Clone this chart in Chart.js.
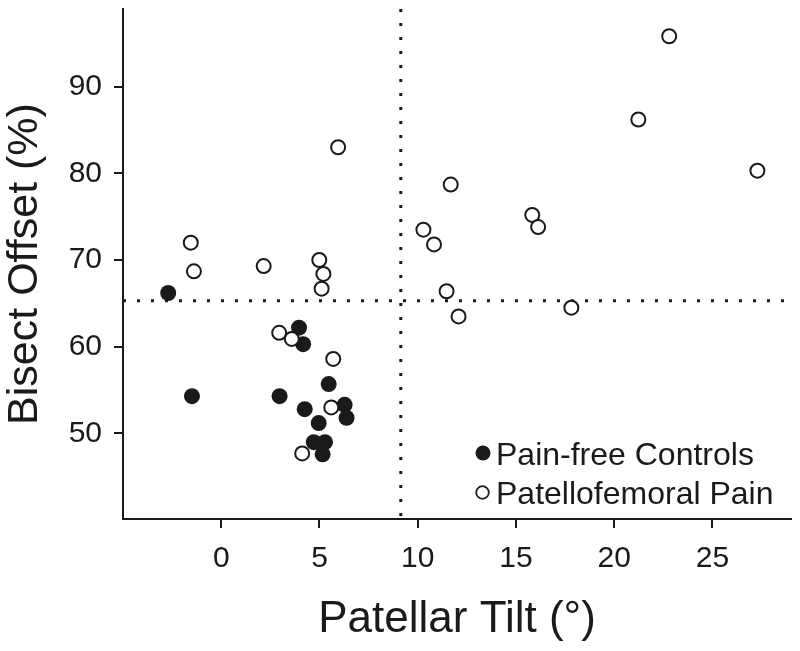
<!DOCTYPE html>
<html>
<head>
<meta charset="utf-8">
<script src="https://cdn.jsdelivr.net/npm/chart.js@4"></script>
<style>
  body { margin: 0; background: #fff; }
  #wrap { width: 800px; height: 651px; }
</style>
</head>
<body>
<div id="wrap"><canvas id="chart" width="800" height="651"></canvas></div>
<script>
// Pain-free controls (filled circles)
const controlTilt   = [-2.7, 3.96, 4.17, 5.47, -1.49, 2.97, 4.25, 6.28, 6.38, 4.96, 4.71, 5.28, 5.16];
const controlOffset = [66.2, 62.2, 60.3, 55.7, 54.3, 54.3, 52.8, 53.3, 51.8, 51.2, 49.0, 49.0, 47.6];

// Patellofemoral pain (open circles)
const painTilt   = [5.95, 10.29, 10.83, -1.55, -1.39, 2.16, 4.99, 5.2, 5.11, 2.95, 3.59, 5.7, 5.6, 4.12,
                    22.8, 21.23, 27.29, 11.68, 15.83, 16.13, 11.47, 12.08, 17.82];
const painOffset = [83.0, 73.5, 71.8, 72.0, 68.7, 69.3, 70.0, 68.4, 66.7, 61.6, 60.9, 58.6, 53.0, 47.7,
                    95.8, 86.2, 80.3, 78.7, 75.2, 73.8, 66.4, 63.5, 64.5];

const xTicks = [0, 5, 10, 15, 20, 25];
const yTicks = [50, 60, 70, 80, 90];

// cut-off lines
const tiltCut = 9.14;
const offsetCut = 65.3;

const xRange = [-5, 29];
const yRange = [40.14, 98.94];

const family = '"Liberation Sans", Arial, Helvetica, sans-serif';
const ink = '#1a1a1a';

const toPts = (xs, ys) => xs.map((x, i) => ({ x: x, y: ys[i] }));

// draws the small legend in the lower right corner of the plot
const cornerLegend = {
  id: 'cornerLegend',
  afterDraw(chart) {
    const ctx = chart.ctx;
    const ds = chart.data.datasets;
    ctx.save();
    ctx.font = '32px ' + family;
    ctx.fillStyle = ink;
    ctx.textBaseline = 'alphabetic';
    // filled marker
    ctx.beginPath();
    ctx.arc(483, 453, 7.5, 0, Math.PI * 2);
    ctx.fill();
    ctx.fillText(ds[1].label, 496, 465);
    // open marker
    ctx.beginPath();
    ctx.arc(482.5, 492.5, 6.3, 0, Math.PI * 2);
    ctx.lineWidth = 1.8;
    ctx.strokeStyle = ink;
    ctx.stroke();
    ctx.fillText(ds[0].label, 496, 504);
    ctx.restore();
  }
};

new Chart(document.getElementById('chart'), {
  type: 'scatter',
  data: {
    datasets: [
      {
        label: 'Patellofemoral Pain',
        data: toPts(painTilt, painOffset),
        pointRadius: 7,
        pointBorderWidth: 2,
        pointBackgroundColor: '#fff',
        pointBorderColor: ink
      },
      {
        label: 'Pain-free Controls',
        data: toPts(controlTilt, controlOffset),
        pointRadius: 8,
        pointBorderWidth: 0,
        pointBackgroundColor: ink,
        pointBorderColor: ink
      },
      {
        label: 'tilt cut',
        type: 'line',
        data: [{ x: tiltCut, y: yRange[1] }, { x: tiltCut, y: yRange[0] }],
        showLine: true,
        pointRadius: 0,
        borderColor: ink,
        borderWidth: 3,
        borderDash: [3, 11],
        fill: false
      },
      {
        label: 'offset cut',
        type: 'line',
        data: [{ x: xRange[0], y: offsetCut }, { x: xRange[1], y: offsetCut }],
        showLine: true,
        pointRadius: 0,
        borderColor: ink,
        borderWidth: 3,
        borderDash: [3, 11],
        fill: false
      }
    ]
  },
  options: {
    responsive: false,
    animation: false,
    layout: { padding: { top: 0, right: 6, left: 0, bottom: 0 } },
    plugins: {
      legend: { display: false },
      tooltip: { enabled: false }
    },
    scales: {
      x: {
        type: 'linear',
        min: xRange[0],
        max: xRange[1],
        afterBuildTicks: s => { s.ticks = xTicks.map(v => ({ value: v })); },
        afterFit: s => { s.height = 132; s.paddingLeft = 0; s.paddingRight = 0; },
        grid: { drawOnChartArea: false, drawTicks: true, tickLength: 9, lineWidth: 2, color: ink },
        border: { display: true, width: 2, color: ink },
        ticks: { color: ink, font: { size: 30, family: family }, padding: 13, maxRotation: 0 },
        title: {
          display: true,
          text: 'Patellar Tilt (°)',
          color: ink,
          font: { size: 44, family: family },
          padding: { top: 0, bottom: 5 }
        }
      },
      y: {
        type: 'linear',
        min: yRange[0],
        max: yRange[1],
        afterBuildTicks: s => { s.ticks = yTicks.map(v => ({ value: v })); },
        afterFit: s => { s.width = 123; s.paddingTop = 0; s.paddingBottom = 0; },
        grid: { drawOnChartArea: false, drawTicks: true, tickLength: 9, lineWidth: 2, color: ink },
        border: { display: true, width: 2, color: ink },
        ticks: { color: ink, font: { size: 30, family: family }, padding: 12 },
        title: {
          display: true,
          text: 'Bisect Offset (%)',
          color: ink,
          font: { size: 43, family: family, lineHeight: 1.0 },
          padding: { top: 4, bottom: 0 }
        }
      }
    }
  },
  plugins: [cornerLegend]
});
</script>
</body>
</html>
